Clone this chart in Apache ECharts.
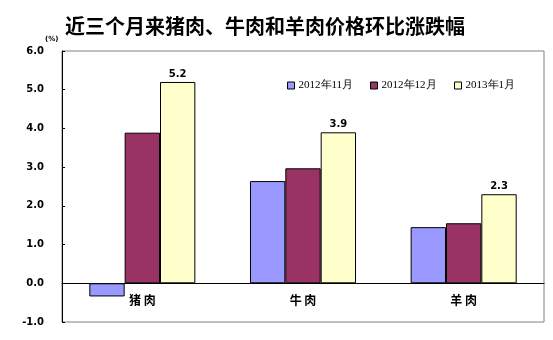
<!DOCTYPE html>
<html><head><meta charset="utf-8">
<script src="https://cdn.jsdelivr.net/npm/echarts@6/dist/echarts.min.js"></script>
<style>html,body{margin:0;padding:0;background:#fff}#c{width:553px;height:340px}</style>
</head><body><div id="c"></div>
<script>
const categories = ['猪肉', '牛肉', '羊肉'];
const seriesNames = ['2012年11月', '2012年12月', '2013年1月'];
const nov2012 = [-0.34, 2.64, 1.45];
const dec2012 = [3.89, 2.97, 1.55];
const jan2013 = [5.2, 3.9, 2.3];
const yTicks = { min: -1, max: 6, interval: 1 };
const colors = ['#9999FF', '#993366', '#FFFFCC'];
const values = [nov2012, dec2012, jan2013];
const legendLeft = [282, 365, 449];

const chart = echarts.init(document.getElementById('c'));
chart.setOption({
  animation: false,
  title: {
    text: '近三个月来猪肉、牛肉和羊肉价格环比涨跌幅',
    left: 60, top: 11,
    textStyle: { fontFamily: 'Noto Sans CJK SC', fontWeight: 'bold', fontSize: 20, color: '#000' }
  },
  graphic: [{
    type: 'text', left: 45, top: 36,
    style: { text: '(%)', font: 'bold 7px "DejaVu Sans"', fill: '#000' }
  }],
  legend: seriesNames.map((n, i) => ({
    data: [n], left: legendLeft[i], top: 75,
    itemWidth: 7, itemHeight: 7, itemGap: 0,
    textStyle: { fontFamily: 'Liberation Serif', fontSize: 11, color: '#000', padding: [0, 0, 0, -1] },
    icon: 'rect',
    itemStyle: { borderColor: '#000', borderWidth: 1 }
  })),
  grid: { left: 62, right: 9, top: 51, bottom: 18, show: true, borderColor: '#808080', borderWidth: 1, containLabel: false },
  xAxis: {
    type: 'category', data: categories,
    axisLine: { onZero: true, lineStyle: { color: '#000', width: 1 } },
    axisTick: { inside: true, length: 3, lineStyle: { color: '#000' } },
    axisLabel: { margin: -28, fontFamily: 'Noto Sans CJK SC', fontWeight: 'bold', fontSize: 12, color: '#000',
      formatter: v => v.split('').join(' ') }
  },
  yAxis: {
    type: 'value', min: yTicks.min, max: yTicks.max, interval: yTicks.interval,
    splitLine: { show: false },
    axisLine: { show: true, lineStyle: { color: '#000', width: 1 } },
    axisTick: { show: true, inside: true, length: 3, lineStyle: { color: '#000' } },
    axisLabel: { margin: 18, fontFamily: 'DejaVu Sans', fontWeight: 'bold', fontSize: 10, color: '#000',
      formatter: v => v.toFixed(1) }
  },
  series: seriesNames.map((n, i) => ({
    name: n, type: 'bar', data: values[i],
    barWidth: '22%', barGap: '0%',
    itemStyle: { color: colors[i], borderColor: '#000', borderWidth: 1 },
    label: i === 2 ? { show: true, position: 'top', distance: 3, fontFamily: 'DejaVu Sans', fontWeight: 'bold', fontSize: 10, color: '#000',
      formatter: p => p.value.toFixed(1) } : { show: false }
  }))
});
</script></body></html>
